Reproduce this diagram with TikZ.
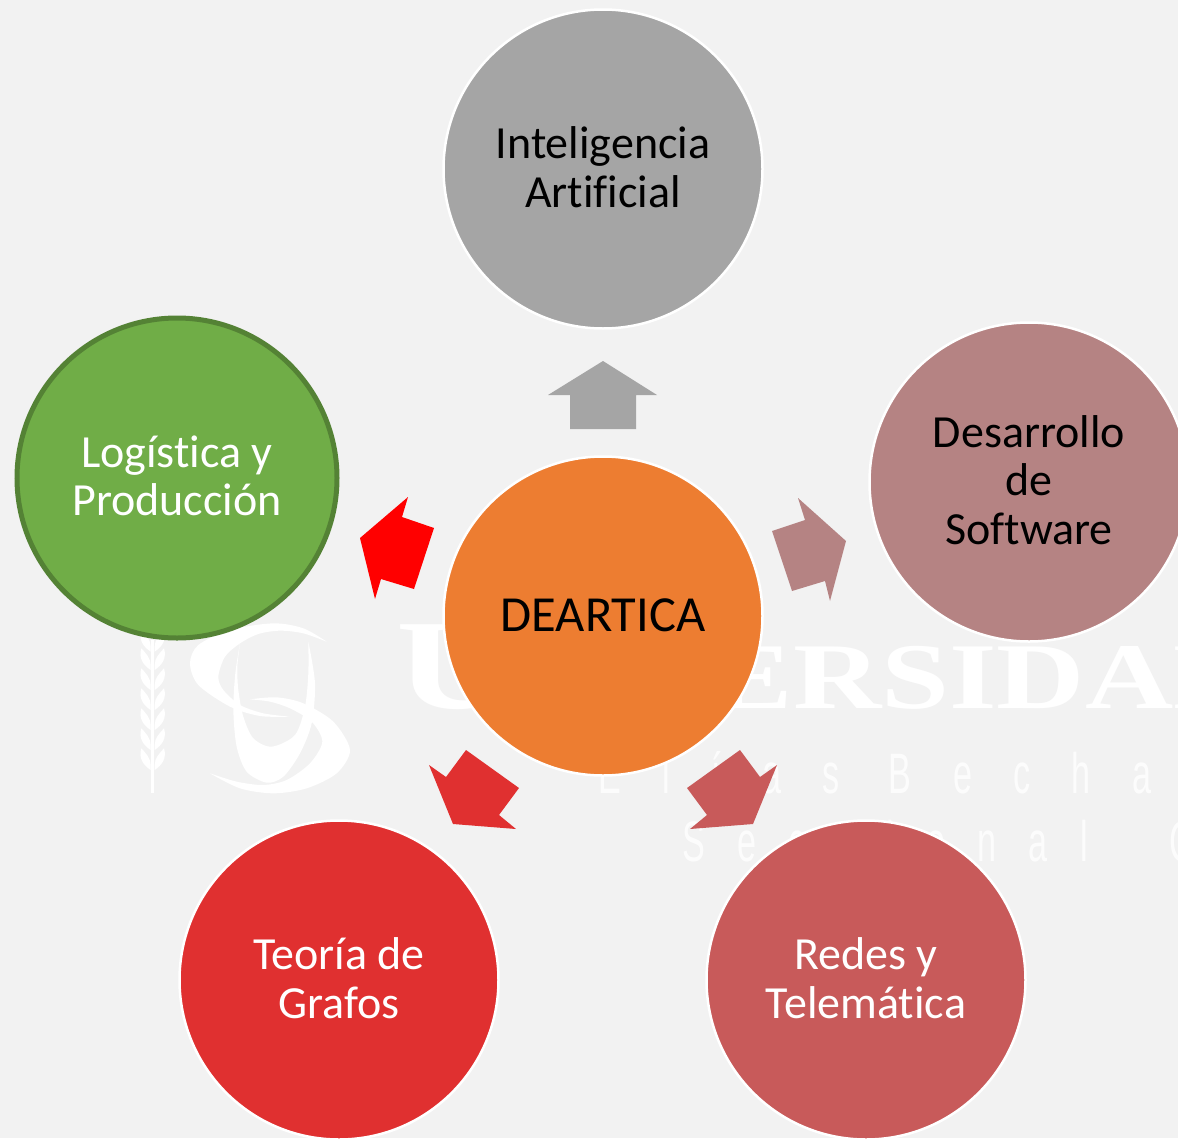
\documentclass[tikz,border=0pt]{standalone}
\usepackage{fontspec}
\setmainfont[Ligatures=NoCommon]{Carlito}
\newfontfamily\wmserif{Liberation Serif}
\newfontfamily\wmsans[LetterSpace=121]{Liberation Sans}
\newfontfamily\wmsanstwo[LetterSpace=94]{Liberation Sans}
\definecolor{bgc}{HTML}{F2F2F2}
\definecolor{cgray}{HTML}{A5A5A5}
\definecolor{crose}{HTML}{B58383}
\definecolor{credes}{HTML}{C85A5A}
\definecolor{cteoria}{HTML}{E03030}
\definecolor{cgreen}{HTML}{70AD47}
\definecolor{cgreend}{HTML}{548235}
\definecolor{corange}{HTML}{ED7D31}
\tikzset{
  topic/.style={circle,minimum size=319pt,inner sep=0pt,draw=white,line width=2.5pt},
  topictext/.style={align=center,yshift=2pt,inner sep=0pt,font=\fontsize{46}{48.5}\selectfont},
  block/.style={draw=none},
  wm/.style={fill=white,draw=none},
}
\begin{document}
\begin{tikzpicture}[x=1pt,y=-1pt]
\useasboundingbox (0,0) rectangle (1178,1138);
\clip (0,0) rectangle (1178,1138);
\fill[bgc] (0,0) rectangle (1178,1138);
% watermark
\begin{scope}[x=0.33333pt,y=-0.33333pt,shift={(390,1830)}]
  \draw[white,line width=3pt] (68,90) -- (68,550);
  \foreach \yb in {480,420,360,300,240,180,125}{
    \fill[wm] (62,\yb) .. controls (40,\yb-15) and (25,\yb-35) .. (34,\yb-65) .. controls (48,\yb-50) and (62,\yb-35) .. (62,\yb-15) -- cycle;
    \fill[wm] (74,\yb) .. controls (96,\yb-15) and (111,\yb-35) .. (102,\yb-65) .. controls (88,\yb-50) and (74,\yb-35) .. (74,\yb-15) -- cycle;
  }
  \fill[wm] plot[smooth] coordinates {(590,95) (520,55) (430,40) (300,60) (205,105) (180,160) (205,225) (300,290) (390,318) (480,320)}
     -- plot[smooth] coordinates {(480,320) (400,310) (330,285) (280,240) (265,200) (285,140) (330,100) (385,72) (450,62) (520,70) (590,95)} -- cycle;
  \fill[wm] plot[smooth] coordinates {(360,268) (440,262) (520,280) (610,335) (660,420) (620,490) (530,535) (430,550) (330,535) (240,490)}
     -- plot[smooth] coordinates {(240,490) (320,515) (400,525) (470,510) (540,460) (577,395) (545,335) (480,295) (420,275) (360,268)} -- cycle;
  \fill[wm] plot[smooth] coordinates {(330,100) (316,190) (310,300) (320,410) (350,485) (410,518) (460,500) (510,430) (545,340) (555,220) (535,95)}
     -- plot[smooth] coordinates {(535,95) (535,190) (525,290) (495,375) (425,410) (370,385) (340,320) (325,240) (322,170) (330,100)} -- cycle;
\end{scope}
\node[anchor=base west,inner sep=0pt,text=white] (wmuni) at (396,708)
  {\scalebox{1.3}[1]{\wmserif\bfseries\fontsize{128}{128}\selectfont U\kern-22pt\fontsize{94}{94}\selectfont NIVERSIDAD}};
\node[anchor=base west,inner sep=0pt,text=white,opacity=.8] (wmeb) at (598,793)
  {\scalebox{0.6}[1]{\fontsize{57}{57}\selectfont\wmsans Elías\kern-3pt\ Bechara}};
\node[anchor=base west,inner sep=0pt,text=white,opacity=.8] (wmse) at (682,861)
  {\scalebox{0.6}[1]{\fontsize{57}{57}\selectfont\wmsanstwo Seccional\kern67pt\ C}};
% block arrows
\fill[cgray,block] (603,361) -- (657,395) -- (636,395) -- (636,429) -- (570,429) -- (570,395) -- (548,395) -- cycle;
\fill[crose,block] (798,498) -- (846,541) -- (830,601) -- (825,581) -- (792,591) -- (772,531) -- (805,520) -- cycle;
\fill[credes,block] (740,750) -- (760,777) -- (777,765) -- (753,824) -- (690,829) -- (707,815) -- (687,788) -- cycle;
\fill[cteoria,block] (466,750) -- (519,788) -- (499,815) -- (516,829) -- (453,824) -- (429,765) -- (446,777) -- cycle;
\fill[red,block] (408,497) -- (402,517) -- (434,528) -- (414,589) -- (381,579) -- (375,599) -- (360,538) -- cycle;
% circles
\node[topic,fill=corange,label={[topictext,yshift=-1pt,font=\fontsize{50.5}{54}\selectfont]center:DEARTICA}] (center) at (603,616) {};
\node[topic,fill=cgray,label={[topictext]center:Inteligencia\\Artificial}] (ia) at (603,169) {};
\node[topic,fill=crose,label={[topictext]center:Desarrollo\\de\\Software}] (soft) at (1029,482) {};
\node[topic,fill=credes,label={[topictext,text=white]center:Redes y\\Telemática}] (redes) at (866,980) {};
\node[topic,fill=cteoria,label={[topictext,text=white]center:Teoría de\\Grafos}] (teoria) at (339,980) {};
\node[topic,fill=cgreen,draw=cgreend,line width=5pt,minimum size=320pt,label={[topictext,text=white]center:Logística y\\Producción}] (log) at (177,478) {};
\end{tikzpicture}
\end{document}
